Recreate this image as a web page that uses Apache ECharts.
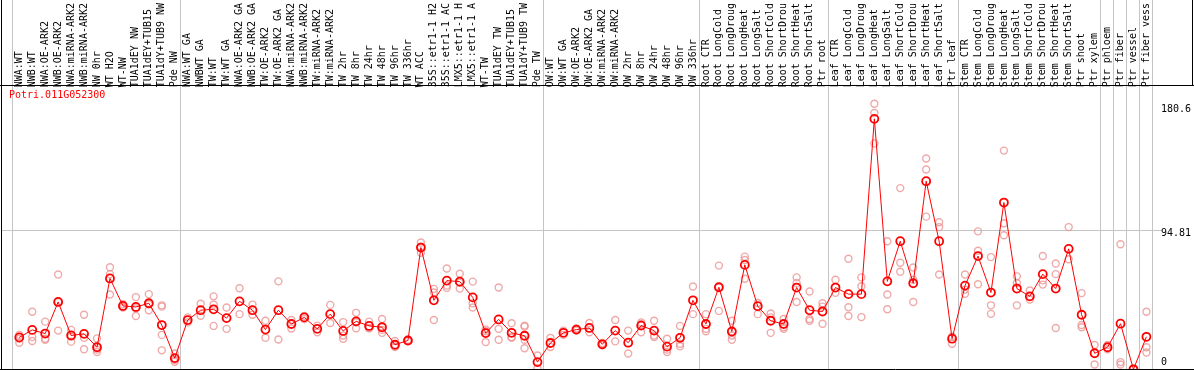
<!DOCTYPE html>
<html>
<head>
<meta charset="utf-8">
<script src="https://cdn.jsdelivr.net/npm/echarts@6/dist/echarts.min.js"></script>
<style>
html,body{margin:0;padding:0;background:#fff;}
#chart{width:1194px;height:370px;}
</style>
</head>
<body>
<div id="chart"></div>
<script>
const geneName = 'Potri.011G052300';

const categories = [
  'NWA:WT','NWB:WT','NWA:OE-ARK2','NWB:OE-ARK2','NWA:miRNA-ARK2','NWB:miRNA-ARK2','NW 0hr','WT H2O','WT-NW','TUA1dEY NW',
  'TUA1dEY+TUB15','TUA1dY+TUB9 NW','Pde NW','NWA:WT GA','NWBWT GA','TW:WT','TW:WT GA','NWA:OE-ARK2 GA','NWB:OE-ARK2 GA','TW:OE-ARK2',
  'TW:OE-ARK2 GA','NWA:miRNA-ARK2','NWB:miRNA-ARK2','TW:miRNA-ARK2','TW:miRNA-ARK2','TW 2hr','TW 8hr','TW 24hr','TW 48hr','TW 96hr',
  'TW 336hr','WT ACC','35S::etr1-1 H2','35S::etr1-1 AC','LMX5::etr1-1 H','LMX5::etr1-1 A','WT-TW','TUA1dEY TW','TUA1dEY+TUB15','TUA1dY+TUB9 TW',
  'Pde TW','OW:WT','OW:WT GA','OW:OE-ARK2','OW:OE-ARK2 GA','OW:miRNA-ARK2','OW:miRNA-ARK2','OW 2hr','OW 8hr','OW 24hr',
  'OW 48hr','OW 96hr','OW 336hr','Root CTR','Root LongCold','Root LongDroug','Root LongHeat','Root LongSalt','Root ShortCold','Root ShortDrou',
  'Root ShortHeat','Root ShortSalt','Ptr root','Leaf CTR','Leaf LongCold','Leaf LongDroug','Leaf LongHeat','Leaf LongSalt','Leaf ShortCold','Leaf ShortDrou',
  'Leaf ShortHeat','Leaf ShortSalt','Ptr leaf','Stem CTR','Stem LongCold','Stem LongDroug','Stem LongHeat','Stem LongSalt','Stem ShortCold','Stem ShortDrou',
  'Stem ShortHeat','Stem ShortSalt','Ptr shoot','Ptr xylem','Ptr phloem','Ptr fiber','Ptr vessel','Ptr fiber vess'
];

const meanValues = [
  21.7,26.8,24.3,45.8,23.0,24.1,15.0,61.8,43.1,42.4,
  44.9,30.1,7.6,33.5,40.2,40.8,34.8,46.2,40.2,27.0,
  40.2,30.8,35.3,27.5,37.5,26.1,32.6,29.5,28.6,16.7,
  19.6,82.8,46.9,60.3,59.6,48.9,24.6,33.9,24.8,22.8,
  4.9,17.9,24.8,27.0,28.1,17.0,26.3,18.1,29.7,26.3,
  15.4,21.4,46.9,30.8,55.8,25.7,71.0,42.9,33.0,30.8,
  55.6,40.2,39.3,55.6,51.1,51.1,170.3,59.8,87.1,58.5,
  127.9,87.1,20.8,56.9,77.0,52.2,113.4,54.9,49.6,64.7,
  54.9,81.9,37.1,10.9,15.0,31.0,0.0,22.1
];

const replicateValues = [
  [23.4,20.8,18.1],[39.1,21.9,19.2],[32.4,20.8,20.1],[64.5,45.8,26.3],[26.8,22.3,18.8],
  [37.1,21.4,13.6],[21.0,13.4,11.8],[69.4,64.7,50.9],[44.2,42.6,42.0],[49.1,41.5,36.2],
  [51.1,44.2,40.2],[43.5,42.6,23.4,12.9],[10.7,6.3,5.1],[35.3,31.9],[44.6,36.4],
  [49.6,44.0,29.5],[42.0,27.5],[55.1,37.5],[44.0,37.1],[33.0,21.4],
  [59.8,20.3],[33.5,27.7],[36.2,34.2],[29.7,25.2],[43.8,31.5],
  [32.1,23.0,20.8],[38.4,31.9,27.9],[32.4,27.9,28.1],[34.2,26.8,24.8],[19.2,16.3,15.2],
  [19.2,19.6,20.1],[86.2,83.3,79.2],[54.7,52.2,33.5],[68.5,56.9,55.4],[65.0,58.9,54.9],
  [59.6,44.9,42.0],[27.0,25.9,18.5],[55.6,27.5,20.1],[31.3,21.9,21.4],[29.7,29.0,20.1,14.3],
  [9.4,0.7],[21.4,15.2],[26.3,23.4],[26.3,27.0,27.7],[31.5,25.2],
  [17.9,17.0,16.3],[33.5,19.0],[26.3,10.7],[31.9,30.8,25.2],[33.0,23.0,21.9],
  [20.8,13.4,11.8],[29.5,17.4,15.6],[56.3,37.5],[37.5,27.5,25.9],[70.5,56.0,39.7],
  [33.0,23.0,20.1],[76.6,74.3,61.6],[45.1,37.5],[37.9,35.3,24.8],[34.2,28.6,27.5],
  [62.5,58.7,45.8],[52.9,34.2,33.0],[44.9,42.6,31.0],[60.9,52.0],[75.2,42.2,36.2],
  [62.5,56.5,35.5],[180.6,174.3,153.6],[87.1,50.9,40.8],[123.2,72.5,66.3],[69.2,60.9,45.8],
  [143.3,135.9,103.8],[100.0,96.7,64.5],[22.3,17.4],[64.5,54.2,51.3],[93.8,80.6,57.8],
  [76.3,43.5,37.7],[148.7,99.3,91.1],[63.2,58.7,43.5],[53.6,47.5],[77.0,60.5,57.6],
  [71.9,64.7,28.1],[96.7,74.8],[51.8,30.1,28.6],[16.5,3.3],[16.5,13.6],
  [85.0,4.9,3.3],[0.0,0.4],[39.1,15.0,11.4]
];

const yTickValues = [0, 94.81, 180.6];
const yAxisMax = 190.4;
// categories before which a grey separator is drawn
const separatorBefore = [0, 13, 41, 53, 63, 73, 84, 85, 86, 87, 88];
const separatorShift = 0.57;

const FONT = 'DejaVu Sans Mono';

const replicatePoints = [];
replicateValues.forEach((arr, i) => arr.forEach(v => replicatePoints.push([i, v])));

const chart = echarts.init(document.getElementById('chart'), null, {renderer: 'canvas'});

const option = {
  animation: false,
  backgroundColor: '#fff',
  title: {
    text: geneName,
    left: 9,
    top: 90,
    padding: 0,
    textStyle: {color: '#ff0000', fontFamily: FONT, fontSize: 10, fontWeight: 'normal'}
  },
  grid: {left: 12.8, right: 38.1, top: 85, height: 284.3, containLabel: false},
  xAxis: [
    {
      type: 'category',
      data: categories,
      position: 'top',
      boundaryGap: true,
      axisLine: {show: false},
      axisTick: {show: false},
      splitLine: {show: false},
      axisLabel: {
        rotate: 90,
        interval: 0,
        margin: 2,
        padding: [5, 0, 0, 0],
        color: '#000',
        fontFamily: FONT,
        fontSize: 10
      }
    },
    {
      type: 'value',
      min: -0.5,
      max: 87.5,
      show: false
    }
  ],
  yAxis: {
    type: 'value',
    position: 'right',
    min: 0,
    max: yAxisMax,
    axisLine: {show: false},
    axisTick: {show: false},
    splitLine: {show: false},
    axisLabel: {
      customValues: yTickValues,
      margin: 8,
      color: '#000',
      fontFamily: FONT,
      fontSize: 10,
      formatter: function (v) {
        if (v === 0) return '{b|0}';
        if (v > 150) return '{t|' + v + '}';
        return '{m|' + v + '}';
      },
      rich: {
        t: {padding: [12, 0, 0, 0], fontFamily: FONT, fontSize: 10, color: '#000'},
        m: {padding: [8, 0, 0, 0], fontFamily: FONT, fontSize: 10, color: '#000'},
        b: {padding: [0, 0, 14, 0], fontFamily: FONT, fontSize: 10, color: '#000'}
      }
    }
  },
  series: [
    {
      name: 'replicates',
      type: 'scatter',
      xAxisIndex: 0,
      data: replicatePoints,
      symbol: 'circle',
      symbolSize: 7,
      itemStyle: {color: 'rgba(0,0,0,0)', borderColor: '#eb9494', borderWidth: 1.4},
      z: 3,
      silent: true
    },
    {
      name: 'mean',
      type: 'line',
      xAxisIndex: 0,
      data: meanValues,
      symbol: 'circle',
      symbolSize: 8,
      showAllSymbol: true,
      lineStyle: {color: '#ff0000', width: 1},
      itemStyle: {color: 'rgba(255,255,255,0)', borderColor: '#ff0000', borderWidth: 1.8},
      z: 4,
      silent: true
    }
  ]
};

chart.setOption(option);

// decorations positioned via the chart's own scales
const yGrid = chart.convertToPixel({yAxisIndex: 0}, 94.81);
const graphics = [];
separatorBefore.forEach(j => {
  const x = Math.round(chart.convertToPixel({xAxisIndex: 1}, j - separatorShift)) + 0.5;
  graphics.push({type: 'line', z: 0, silent: true,
    shape: {x1: x, y1: 0, x2: x, y2: 370},
    style: {stroke: '#c4c4c4', lineWidth: 1}});
});
const yg = Math.round(yGrid) + 0.5;
graphics.push({type: 'line', z: 0, silent: true,
  shape: {x1: 1, y1: yg, x2: 1162, y2: yg},
  style: {stroke: '#c4c4c4', lineWidth: 1}});
// frame
graphics.push({type: 'line', z: 100, silent: true, shape: {x1: 1.5, y1: 0, x2: 1.5, y2: 370}, style: {stroke: '#000', lineWidth: 1}});
graphics.push({type: 'line', z: 100, silent: true, shape: {x1: 0, y1: 85.5, x2: 1194, y2: 85.5}, style: {stroke: '#000', lineWidth: 1}});
graphics.push({type: 'line', z: 100, silent: true, shape: {x1: 0, y1: 369.5, x2: 1194, y2: 369.5}, style: {stroke: '#000', lineWidth: 1}});
graphics.push({type: 'line', z: 100, silent: true, shape: {x1: 1192.5, y1: 0, x2: 1192.5, y2: 85}, style: {stroke: '#000', lineWidth: 1}});

chart.setOption({graphic: {elements: graphics}});
</script>
</body>
</html>
